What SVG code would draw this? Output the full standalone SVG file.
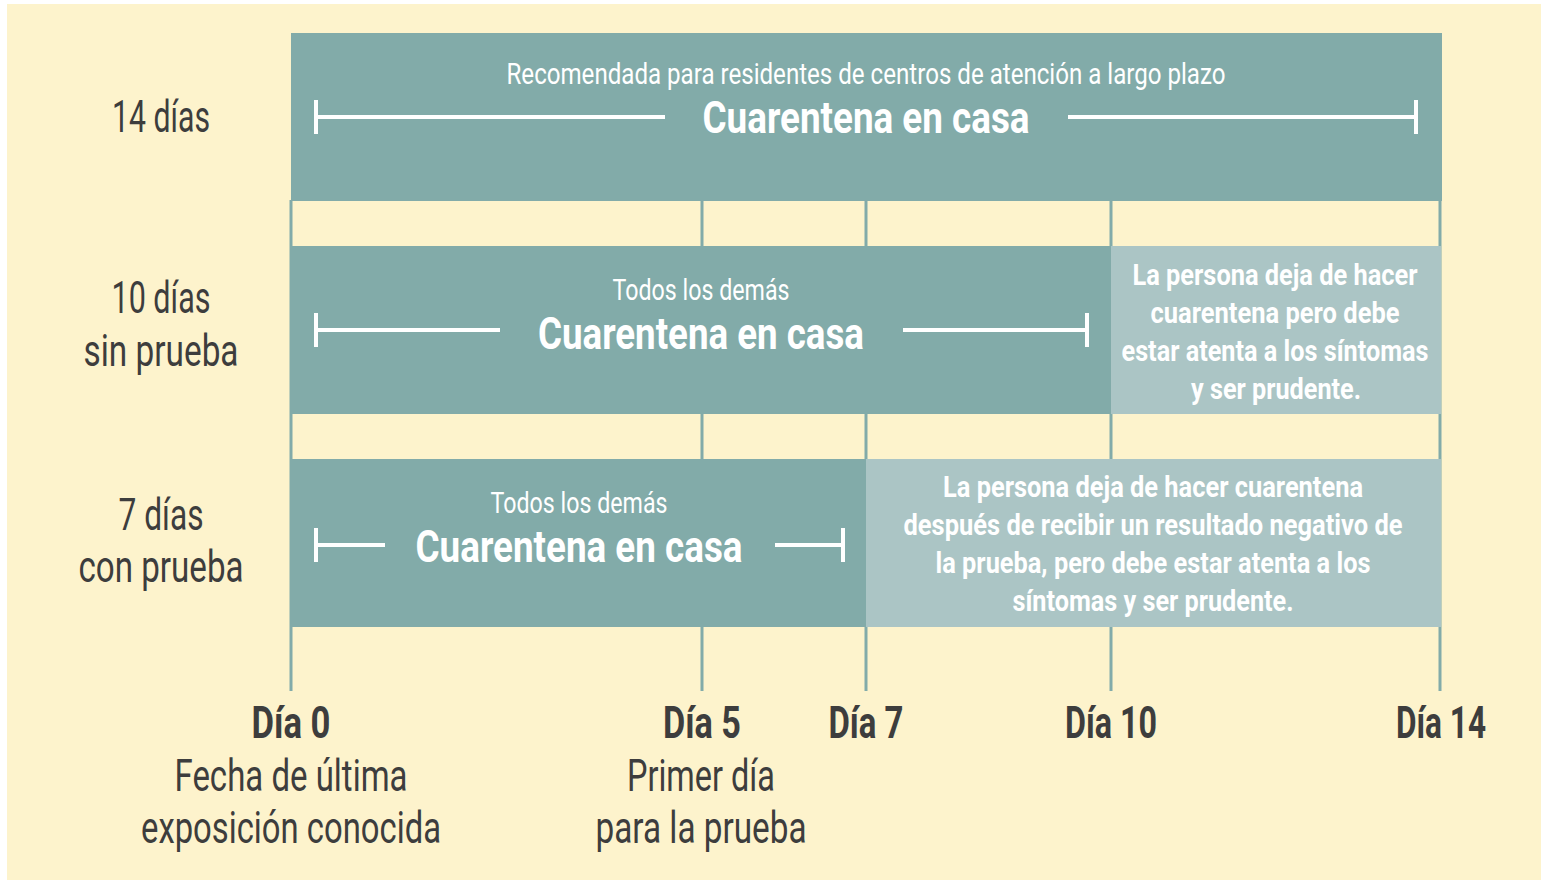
<svg xmlns="http://www.w3.org/2000/svg" width="1544" height="882" viewBox="0 0 1544 882">
<style>
.bg{fill:#FDF3CC}
.dk{fill:#82ABA9}
.lt{fill:#ABC5C5}
.grid{stroke:#82ABA9;stroke-width:3}
.br{stroke:#FFFFFF;stroke-width:4;fill:none}
text{font-family:Roboto,"Liberation Sans",sans-serif;text-anchor:middle}
.lbl{fill:#3D3D3D;font-size:44px}
.day{fill:#3D3D3D;font-size:44px;font-weight:bold}
.ttl{fill:#FFFFFF;font-size:45px;font-weight:bold}
.sub{fill:#FFFFFF;font-size:30px}
.info{fill:#FFFFFF;font-size:29px;font-weight:bold}
</style>
<rect x="0" y="0" width="1544" height="882" fill="#FFFFFF"/>
<rect class="bg" x="7" y="4" width="1534" height="876"/>
<g id="grid">
<line class="grid" x1="291" y1="200" x2="291" y2="691"/>
<line class="grid" x1="702" y1="200" x2="702" y2="691"/>
<line class="grid" x1="866" y1="200" x2="866" y2="691"/>
<line class="grid" x1="1111" y1="200" x2="1111" y2="691"/>
<line class="grid" x1="1440" y1="200" x2="1440" y2="691"/>
</g>
<g id="row14">
<rect class="dk" x="291" y="33" width="1151" height="168"/>
<text class="sub" x="866" y="84" textLength="719" lengthAdjust="spacingAndGlyphs">Recomendada para residentes de centros de atención a largo plazo</text>
<text class="ttl" x="866" y="133" textLength="327" lengthAdjust="spacingAndGlyphs">Cuarentena en casa</text>
<path class="br" d="M316 100V134M316 117H665M1068 117H1416M1416 100V134"/>
<text class="lbl" x="161" y="132" textLength="98" lengthAdjust="spacingAndGlyphs">14 días</text>
</g>
<g id="row10">
<rect class="dk" x="291" y="246" width="820" height="168"/>
<rect class="lt" x="1111" y="246" width="330" height="168"/>
<text class="sub" x="701" y="300" textLength="177" lengthAdjust="spacingAndGlyphs">Todos los demás</text>
<text class="ttl" x="701" y="349" textLength="326" lengthAdjust="spacingAndGlyphs">Cuarentena en casa</text>
<path class="br" d="M316 313V347M316 330H500M903 330H1087M1087 313V347"/>
<text class="info" x="1275" y="285" textLength="285" lengthAdjust="spacingAndGlyphs">La persona deja de hacer</text>
<text class="info" x="1275" y="323" textLength="249" lengthAdjust="spacingAndGlyphs">cuarentena pero debe</text>
<text class="info" x="1275" y="361" textLength="307" lengthAdjust="spacingAndGlyphs">estar atenta a los síntomas</text>
<text class="info" x="1276" y="399" textLength="170" lengthAdjust="spacingAndGlyphs">y ser prudente.</text>
<text class="lbl" x="161" y="313" textLength="99" lengthAdjust="spacingAndGlyphs">10 días</text>
<text class="lbl" x="161" y="366" textLength="155" lengthAdjust="spacingAndGlyphs">sin prueba</text>
</g>
<g id="row7">
<rect class="dk" x="291" y="459" width="575" height="168"/>
<rect class="lt" x="866" y="459" width="575" height="168"/>
<text class="sub" x="579" y="513" textLength="177" lengthAdjust="spacingAndGlyphs">Todos los demás</text>
<text class="ttl" x="579" y="562" textLength="327" lengthAdjust="spacingAndGlyphs">Cuarentena en casa</text>
<path class="br" d="M316 528V562M316 545H385M775 545H843M843 528V562"/>
<text class="info" x="1153" y="497" textLength="420" lengthAdjust="spacingAndGlyphs">La persona deja de hacer cuarentena</text>
<text class="info" x="1153" y="535" textLength="499" lengthAdjust="spacingAndGlyphs">después de recibir un resultado negativo de</text>
<text class="info" x="1153" y="573" textLength="435" lengthAdjust="spacingAndGlyphs">la prueba, pero debe estar atenta a los</text>
<text class="info" x="1153" y="611" textLength="281" lengthAdjust="spacingAndGlyphs">síntomas y ser prudente.</text>
<text class="lbl" x="161" y="530" textLength="85" lengthAdjust="spacingAndGlyphs">7 días</text>
<text class="lbl" x="161" y="582" textLength="165" lengthAdjust="spacingAndGlyphs">con prueba</text>
</g>
<g id="axis">
<text class="day" x="291" y="738" textLength="79" lengthAdjust="spacingAndGlyphs">Día 0</text>
<text class="day" x="702" y="738" textLength="78" lengthAdjust="spacingAndGlyphs">Día 5</text>
<text class="day" x="866" y="738" textLength="75" lengthAdjust="spacingAndGlyphs">Día 7</text>
<text class="day" x="1111" y="738" textLength="92" lengthAdjust="spacingAndGlyphs">Día 10</text>
<text class="day" x="1441" y="738" textLength="90" lengthAdjust="spacingAndGlyphs">Día 14</text>
<text class="lbl" x="291" y="791" textLength="233" lengthAdjust="spacingAndGlyphs">Fecha de última</text>
<text class="lbl" x="291" y="843" textLength="300" lengthAdjust="spacingAndGlyphs">exposición conocida</text>
<text class="lbl" x="701" y="791" textLength="148" lengthAdjust="spacingAndGlyphs">Primer día</text>
<text class="lbl" x="701" y="843" textLength="211" lengthAdjust="spacingAndGlyphs">para la prueba</text>
</g>
</svg>
